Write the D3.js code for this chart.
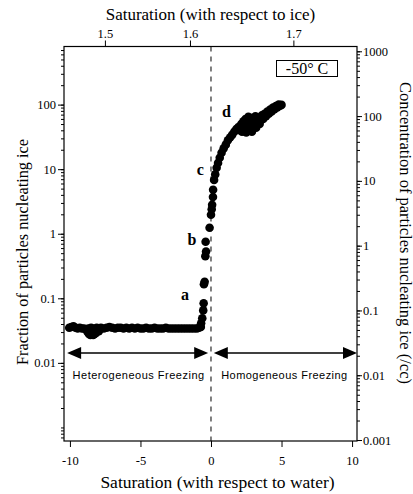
<!DOCTYPE html>
<html><head><meta charset="utf-8">
<script src="https://cdn.jsdelivr.net/npm/d3@7"></script>
<style>body{margin:0;background:#fff}svg{display:block}text{fill:#000}</style>
</head><body>
<svg id="c" width="413" height="494"></svg>
<script>
// ---- data ----
// water supersaturation (%) and fraction of particles nucleating ice
const hetSat  = [-10.05,-9.9,-9.75,-9.6,-9.45,-9.3,-9.15,-9.0,-8.85,-8.75,-8.65,-8.55,-8.45,-8.35,-8.25,-8.15,-8.7,-8.5,-8.3,-8.1,-7.95,-7.8,-7.6,-7.4,-7.2,-7.0,-6.8,-6.6,-6.4,-6.2,-6.0,-5.8,-5.6,-5.4,-5.2,-5.0,-4.8,-4.6,-4.4,-4.2,-4.0,-3.8,-3.6,-3.4,-3.2,-3.0,-2.8,-2.6,-2.4,-2.2,-2.0,-1.8,-1.6,-1.4,-1.2,-1.0,-0.85,-0.72];
const hetFrac = [0.035,0.036,0.037,0.035,0.034,0.035,0.034,0.034,0.033,0.030,0.028,0.027,0.028,0.027,0.028,0.029,0.034,0.035,0.034,0.035,0.031,0.035,0.034,0.035,0.036,0.035,0.034,0.035,0.035,0.034,0.035,0.034,0.035,0.034,0.035,0.034,0.034,0.035,0.034,0.034,0.035,0.034,0.034,0.034,0.035,0.034,0.034,0.034,0.034,0.034,0.034,0.034,0.034,0.034,0.034,0.034,0.035,0.036];
const homSat  = [-0.7,-0.62,-0.55,-0.52,-0.5,-0.45,-0.4,-0.35,-0.38,-0.1,0.0,0.05,0.08,0.14,0.15,0.22,0.3,0.4,0.5,0.62,0.75,0.9,1.05,1.2,1.35,1.5,1.65,1.8,1.95,2.05,2.15,2.2,2.3,2.35,2.45,2.5,2.55,2.65,2.7,2.75,2.85,2.9,3.0,3.05,3.15,3.2,3.3,3.4,3.45,3.55,3.6,3.7,3.8,3.9,4.0,4.1,4.2,4.3,4.4,4.5,4.6,4.7,4.8,4.9,5.0];
const homFrac = [0.041,0.049,0.065,0.084,0.165,0.18,0.45,0.53,0.75,1.24,1.97,2.4,2.8,3.7,4.8,6.8,8.3,10.5,12.5,15,18,21,24,28,31,34,38,42,45,40,50,38,55,45,60,37,50,65,42,55,62,38,48,58,66,44,55,62,50,58,68,60,72,66,78,72,84,78,90,85,95,90,100,96,99];

const waterTicks = [-10,-5,0,5,10];
const fracTicks  = [0.01,0.1,1,10,100];
const concTicks  = [0.001,0.01,0.1,1,10,100,1000];
const iceTicks   = [1.5,1.6,1.7];
const iceTickWater = [-7.52,-1.49,5.84];   // where the ice-saturation ticks sit on the water scale

const labels = [
  {t:"a", x:-1.85, v:0.095},
  {t:"b", x:-1.35, v:0.68},
  {t:"c", x:-0.75, v:8.2},
  {t:"d", x:1.1,  v:65}
];

// ---- chart ----
const svg = d3.select("#c");
const L=64, R=357, T=46.5, B=441;
const serif = "'Liberation Serif','Times New Roman',serif";
const sans  = "'Liberation Sans',Arial,sans-serif";

const x = d3.scaleLinear().domain([-10.42,10.35]).range([L,R]);
const yL = d3.scaleLog().domain([Math.pow(10,-3.21),Math.pow(10,2.9)]).range([B,T]);
const yR = d3.scaleLog().domain([Math.pow(10,-3.015),Math.pow(10,3.074)]).range([B,T]);
const xIce = d3.scaleLinear().domain(iceTicks).range(iceTickWater.map(x));

function minors(scale){
  const [a,b]=scale.domain(); const out=[];
  for(let e=Math.floor(Math.log10(a)); e<=Math.ceil(Math.log10(b)); e++){
    for(let m=1;m<10;m++){const v=m*Math.pow(10,e); if(v>=a&&v<=b) out.push(v);}
  }
  return out;
}
function styleAxis(g,fs){
  g.select(".domain").remove();
  g.selectAll("line").attr("stroke","#000").attr("stroke-width",1);
  g.selectAll("text").attr("font-family",serif).attr("font-size",fs).attr("fill","#000");
}

// bottom axis
svg.append("g").attr("transform",`translate(0,${B})`)
  .call(d3.axisBottom(x).tickValues(waterTicks).tickSize(6).tickPadding(9).tickFormat(d=>String(d)))
  .call(g=>styleAxis(g,12.5));
// top axis
svg.append("g").attr("transform",`translate(0,${T})`)
  .call(d3.axisTop(xIce).tickValues(iceTicks).tickSize(6).tickPadding(3).tickFormat(d3.format(".1f")))
  .call(g=>styleAxis(g,12.5));
// left axis
svg.append("g").attr("transform",`translate(${L},0)`)
  .call(d3.axisLeft(yL).tickValues(minors(yL)).tickSize(3).tickFormat(""))
  .call(g=>styleAxis(g,12));
svg.append("g").attr("transform",`translate(${L},0)`)
  .call(d3.axisLeft(yL).tickValues(fracTicks).tickSize(6).tickPadding(2).tickFormat(d=>String(d)))
  .call(g=>styleAxis(g,12.5));
// right axis
svg.append("g").attr("transform",`translate(${R},0)`)
  .call(d3.axisRight(yR).tickValues(minors(yR)).tickSize(3).tickFormat(""))
  .call(g=>styleAxis(g,12));
svg.append("g").attr("transform",`translate(${R},0)`)
  .call(d3.axisRight(yR).tickValues(concTicks).tickSize(5).tickPadding(1).tickFormat(d=>String(d)))
  .call(g=>styleAxis(g,12.5));

// frame
svg.append("rect").attr("x",L).attr("y",T).attr("width",R-L).attr("height",B-T)
  .attr("fill","none").attr("stroke","#000").attr("stroke-width",1.2);

// dashed line at water saturation
svg.append("line").attr("x1",x(0)).attr("x2",x(0)).attr("y1",T).attr("y2",B)
  .attr("stroke","#000").attr("stroke-width",1).attr("stroke-dasharray","5,5");

// arrows
const ay = 353;
function dblArrow(x1,x2){
  const g=svg.append("g");
  g.append("line").attr("x1",x1+10).attr("x2",x2-10).attr("y1",ay).attr("y2",ay).attr("stroke","#000").attr("stroke-width",1.3);
  g.append("path").attr("d",`M${x1},${ay}L${x1+14},${ay-6}L${x1+14},${ay+6}Z`).attr("fill","#000");
  g.append("path").attr("d",`M${x2},${ay}L${x2-14},${ay-6}L${x2-14},${ay+6}Z`).attr("fill","#000");
}
dblArrow(x(-10.2),x(-0.2));
dblArrow(x(0.2),x(10.35));
svg.append("text").attr("x",(x(-10.2)+x(-0.2))/2+1).attr("y",379).attr("text-anchor","middle")
  .attr("font-family",sans).attr("font-size",11).attr("letter-spacing",0.5).text("Heterogeneous Freezing");
svg.append("text").attr("x",(x(0.2)+x(10.35))/2-1).attr("y",379).attr("text-anchor","middle")
  .attr("font-family",sans).attr("font-size",11).attr("letter-spacing",0.45).text("Homogeneous Freezing");

// data points
const pts = hetSat.map((s,i)=>[s,hetFrac[i]]).concat(homSat.map((s,i)=>[s,homFrac[i]]));
svg.append("g").selectAll("circle").data(pts).join("circle")
  .attr("cx",d=>x(d[0])).attr("cy",d=>yL(d[1])).attr("r",4.3).attr("fill","#000");

// letters
svg.append("g").selectAll("text").data(labels).join("text")
  .attr("x",d=>x(d.x)).attr("y",d=>yL(d.v)).attr("text-anchor","middle")
  .attr("font-family",serif).attr("font-weight","bold").attr("font-size",16).text(d=>d.t);

// temperature box
svg.append("rect").attr("x",276.5).attr("y",60.5).attr("width",61).attr("height",16)
  .attr("fill","#fff").attr("stroke","#000").attr("stroke-width",1);
svg.append("text").attr("x",307).attr("y",74).attr("text-anchor","middle")
  .attr("font-family",serif).attr("font-size",16).text("-50° C");

// axis titles
svg.append("text").attr("x",(L+R)/2).attr("y",20).attr("text-anchor","middle")
  .attr("font-family",serif).attr("font-size",17).text("Saturation (with respect to ice)");
svg.append("text").attr("x",(L+R)/2+7).attr("y",488).attr("text-anchor","middle")
  .attr("font-family",serif).attr("font-size",17.5).text("Saturation (with respect to water)");
svg.append("text").attr("transform","translate(28,252) rotate(-90)").attr("text-anchor","middle")
  .attr("font-family",serif).attr("font-size",16.3).text("Fraction of particles nucleating ice");
svg.append("text").attr("transform","translate(399.5,233) rotate(90)").attr("text-anchor","middle")
  .attr("font-family",serif).attr("font-size",16.5).text("Concentration of particles nucleating ice (/cc)");
</script>
</body></html>
